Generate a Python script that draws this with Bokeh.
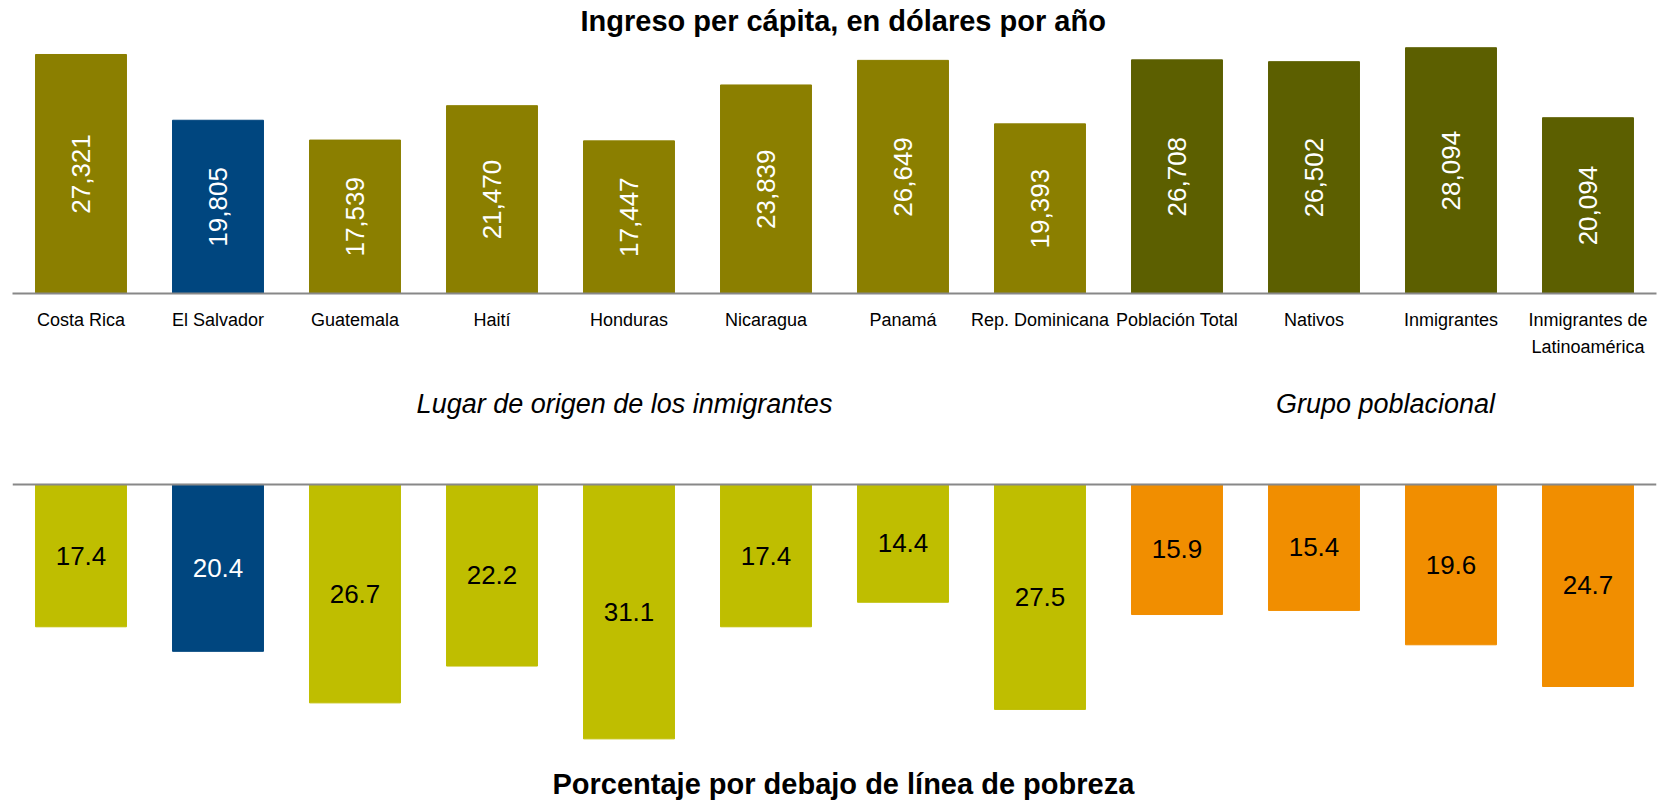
from math import pi
from bokeh.plotting import figure
from bokeh.models import Range1d, FactorRange, ColumnDataSource, Label, Span, Title, CategoricalAxis
from bokeh.layouts import column
from bokeh.embed import file_html
from bokeh.resources import INLINE
from bokeh.core.properties import value

categories = ["Costa Rica", "El Salvador", "Guatemala", "Haití", "Honduras", "Nicaragua",
              "Panamá", "Rep. Dominicana", "Población Total", "Nativos", "Inmigrantes",
              "Inmigrantes de Latinoamérica"]
income = [27321, 19805, 17539, 21470, 17447, 23839, 26649, 19393, 26708, 26502, 28094, 20094]
poverty = [17.4, 20.4, 26.7, 22.2, 31.1, 17.4, 14.4, 27.5, 15.9, 15.4, 19.6, 24.7]
kind = ["origen"] * 8 + ["grupo"] * 4
highlight = "El Salvador"
title_top = "Ingreso per cápita, en dólares por año"
title_bottom = "Porcentaje por debajo de línea de pobreza"
group_origin = "Lugar de origen de los inmigrantes"
group_pop = "Grupo poblacional"
# tick labels, first and second line (the long label wraps)
tick_line1 = ["Costa Rica", "El Salvador", "Guatemala", "Haití", "Honduras", "Nicaragua",
              "Panamá", "Rep. Dominicana", "Población Total", "Nativos", "Inmigrantes",
              "Inmigrantes de"]
tick_line2 = ["", "", "", "", "", "", "", "", "", "", "", "Latinoamérica"]

FONT = "Liberation Sans"

top_colors = ["#00467F" if c == highlight else ("#8B7F00" if k == "origen" else "#5C5F00")
              for c, k in zip(categories, kind)]
bot_colors = ["#00467F" if c == highlight else ("#BFBE00" if k == "origen" else "#F18E00")
              for c, k in zip(categories, kind)]
bot_text_colors = ["white" if c == highlight else "black" for c in categories]

src = ColumnDataSource(dict(
    cat=categories,
    income=income,
    income_mid=[v / 2 for v in income],
    income_lbl=[f"{v:,}" for v in income],
    poverty=poverty,
    poverty_mid=[v / 2 for v in poverty],
    poverty_lbl=[f"{v:.1f}" for v in poverty],
    top_color=top_colors,
    bot_color=bot_colors,
    bot_text_color=bot_text_colors,
))


def unique_factors(labels):
    # blank labels must still be distinct factors
    out, blanks = [], 0
    for t in labels:
        if t == "":
            blanks += 1
            out.append(" " * blanks)
        else:
            out.append(t)
    return out


xr = FactorRange(*categories, range_padding=0)
W = 1658

# ---------- top chart ----------
p1 = figure(width=W, height=380, x_range=xr, y_range=Range1d(0, 29378),
            output_backend="svg", toolbar_location=None,
            x_axis_location=None, y_axis_location=None,
            min_border_left=12, min_border_right=2, min_border_top=36, min_border_bottom=87)
p1.extra_x_ranges = {
    "line1": FactorRange(*unique_factors(tick_line1), range_padding=0),
    "line2": FactorRange(*unique_factors(tick_line2), range_padding=0),
}
p1.title = Title(text=title_top, align="left", offset=568, text_font=FONT,
                 text_font_size="29px", text_font_style="bold", text_color="black", standoff=0)
p1.vbar(x="cat", top="income", width=0.664, color="top_color", source=src)
p1.text(x="cat", y="income_mid", text="income_lbl", angle=pi / 2, source=src,
        text_align="center", text_baseline="middle", text_color="white",
        text_font=value(FONT), text_font_size="26px")
p1.xgrid.visible = False
p1.ygrid.visible = False
p1.outline_line_color = None


def style_axis(ax, standoff):
    ax.major_tick_line_color = None
    ax.major_tick_out = 0
    ax.major_tick_in = 0
    ax.minor_tick_line_color = None
    ax.major_label_standoff = standoff
    ax.major_label_text_font = FONT
    ax.major_label_text_font_size = "18px"
    ax.major_label_text_color = "black"


ax1 = CategoricalAxis(x_range_name="line1", axis_line_color="#888888", axis_line_width=2)
style_axis(ax1, 16)
p1.add_layout(ax1, "below")

ax2 = CategoricalAxis(x_range_name="line2", axis_line_color=None)
style_axis(ax2, 4)
p1.add_layout(ax2, "below")

# ---------- bottom chart ----------
p2 = figure(width=W, height=422, x_range=xr, y_range=Range1d(start=33.99, end=-12.71),
            output_backend="svg", toolbar_location=None,
            x_axis_location=None, y_axis_location=None,
            min_border_left=12, min_border_right=2, min_border_top=0, min_border_bottom=40)
p2.vbar(x="cat", top=0, bottom="poverty", width=0.664, color="bot_color", source=src)
p2.text(x="cat", y="poverty_mid", text="poverty_lbl", source=src,
        text_align="center", text_baseline="middle", text_color="bot_text_color",
        text_font=value(FONT), text_font_size="26px")
p2.add_layout(Span(location=0, dimension="width", line_color="#888888", line_width=2))
p2.add_layout(Title(text=title_bottom, align="left", offset=540, vertical_align="bottom",
                    text_font=FONT, text_font_size="29px", text_font_style="bold",
                    text_color="black", standoff=6), "below")
for txt, xs in [(group_origin, 612), (group_pop, 1373)]:
    p2.add_layout(Label(x=xs, y=-9.8, x_units="screen", y_units="data", text=txt,
                        text_align="center", text_baseline="middle", text_font=FONT,
                        text_font_size="27px", text_font_style="italic", text_color="black"))
p2.xgrid.visible = False
p2.ygrid.visible = False
p2.outline_line_color = None

layout = column(p1, p2, spacing=0)
open("out.html", "w").write(file_html(layout, INLINE))
